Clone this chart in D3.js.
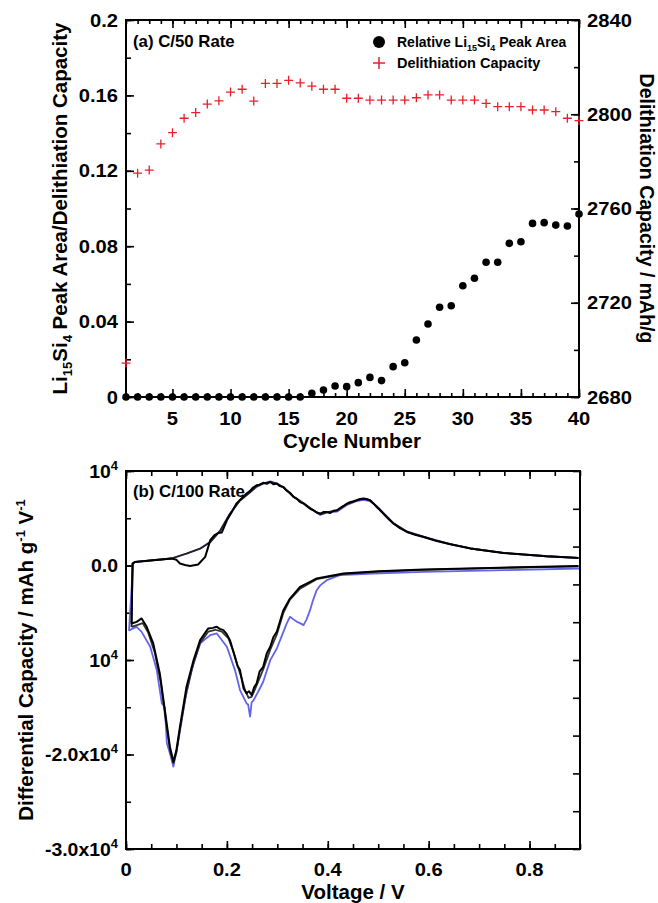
<!DOCTYPE html>
<html><head><meta charset="utf-8">
<script src="https://cdn.jsdelivr.net/npm/d3@7"></script>
<style>
body{margin:0;background:#fff}
svg text{font-family:"Liberation Sans",Arial,Helvetica,sans-serif;font-weight:bold;fill:#000}
</style></head><body>
<svg id="chart" width="658" height="903"></svg>
<script>
// ---------- Panel (a) data ----------
const cycles = [1,2,3,4,5,6,7,8,9,10,11,12,13,14,15,16,17,18,19,20,21,22,23,24,25,26,27,28,29,30,31,32,33,34,35,36,37,38,39,40];
const peakArea = [0,0,0,0,0,0,0,0,0,0,0,0,0,0,0,0,
  0.002,0.0037,0.0058,0.0055,0.0076,0.0104,0.0087,0.0161,0.0182,0.0302,0.0387,0.0476,0.0484,0.059,
  0.063,0.0715,0.0715,0.0815,0.0824,0.0921,0.0925,0.0912,0.0907,0.0971];
const delithCapacity = [2694.4,2775,2776.3,2787.4,2792.2,2798.3,2800.7,2804.3,2805.7,2809.4,
  2810.6,2805.6,2813.1,2813.1,2814.4,2813.3,2811.9,2810.6,2810.6,2806.8,
  2806.8,2806,2806,2806,2806,2807,2808.2,2808.2,2806,2806,
  2806,2804.6,2803.2,2803.2,2803.2,2801.8,2801.8,2801.1,2798.3,2797.3];
const cycleMajorTicks = [5,10,15,20,25,30,35,40];
const leftTicksA = [0,0.04,0.08,0.12,0.16,0.2];
const leftTickLabelsA = ["0","0.04","0.08","0.12","0.16","0.2"];
const rightTicksA = [2680,2720,2760,2800,2840];

// ---------- Panel (b) data : [voltage, dQ/dV] ----------
const blueLith = [[0.9,-317],[0.75,-500],[0.59,-677],[0.49,-846],[0.424,-1025],[0.398,-1554],[0.385,-2100],[0.378,-2611],
  [0.37,-3800],[0.365,-4700],[0.358,-5700],[0.352,-6311],[0.345,-6100],[0.339,-5962],[0.332,-5700],[0.325,-5433],
  [0.318,-6200],[0.312,-7019],[0.299,-8780],[0.286,-10011],[0.272,-12304],[0.262,-13362],[0.253,-14239],[0.249,-14500],
  [0.246,-16000],[0.242,-14700],[0.239,-14591],[0.226,-13180],[0.216,-11068],[0.2,-8605],[0.18,-7195],[0.167,-7370],
  [0.147,-8245],[0.13,-11068],[0.117,-14239],[0.104,-18467],[0.094,-21290],[0.087,-19877],[0.081,-18819],[0.077,-15000],
  [0.071,-14591],[0.061,-11068],[0.048,-8605],[0.031,-7019],[0.021,-6490],[0.012,-6700],[0.006,-6900]];
const blueDelith = [[0.006,-6900],[0.014,200],[0.018,383],[0.09,740],[0.12,1268],[0.147,1797],[0.167,2495],[0.187,3731],
  [0.206,5497],[0.226,6903],[0.246,7780],[0.259,8300],[0.272,8650],[0.286,8900],[0.299,8700],[0.312,8250],[0.332,7300],
  [0.352,6600],[0.372,5800],[0.385,5350],[0.398,5600],[0.418,5700],[0.438,6400],[0.457,6800],[0.471,6950],[0.484,6800],
  [0.497,6300],[0.51,5600],[0.53,4500],[0.557,3600],[0.59,3050],[0.616,2650],[0.643,2250],[0.683,1800],[0.748,1330],
  [0.834,980],[0.897,800]];
const black1Lith = [[0.897,-60],[0.8,-160],[0.7,-280],[0.59,-423],[0.5,-600],[0.431,-846],[0.378,-1374],[0.365,-1734],
  [0.345,-2262],[0.325,-3500],[0.312,-4725],[0.299,-7019],[0.292,-7600],[0.286,-8605],[0.279,-9300],[0.272,-10719],
  [0.265,-11200],[0.259,-12474],[0.254,-12900],[0.249,-13711],[0.244,-13300],[0.239,-13530],[0.233,-13002],[0.226,-11068],
  [0.221,-10600],[0.216,-9662],[0.206,-7900],[0.199,-7200],[0.193,-6840],[0.186,-6700],[0.18,-6490],[0.172,-6600],
  [0.163,-6660],[0.147,-7900],[0.134,-10011],[0.12,-12833],[0.107,-17062],[0.1,-19524],[0.094,-20761],[0.087,-19175],
  [0.077,-15296],[0.067,-11416],[0.054,-8245],[0.041,-6490],[0.031,-5603],[0.021,-5962],[0.011,-6131]];
const black1Delith = [[0.011,-6131],[0.013,200],[0.018,383],[0.0906,740],[0.1,600],[0.107,211],[0.117,50],[0.127,-42],
  [0.143,106],[0.157,909],[0.167,2674],[0.175,3200],[0.183,3446],[0.19,3500],[0.2,4789],[0.21,5700],[0.219,6554],
  [0.229,7100],[0.239,7611],[0.246,7900],[0.252,8250],[0.259,8488],[0.265,8550],[0.272,8750],[0.279,8650],[0.286,8840],
  [0.292,8600],[0.299,8668],[0.305,8400],[0.312,8310],[0.318,7950],[0.325,7700],[0.332,7252],[0.339,7050],[0.345,6700],
  [0.352,6554],[0.358,6300],[0.365,6000],[0.372,5846],[0.378,5600],[0.385,5497],[0.391,5650],[0.398,5666],[0.405,5550],
  [0.411,5800],[0.418,5846],[0.425,6100],[0.431,6300],[0.438,6554],[0.444,6700],[0.451,6800],[0.457,6903],[0.464,7050],
  [0.471,7083],[0.477,7050],[0.484,6903],[0.49,6600],[0.497,6195],[0.503,5900],[0.51,5497],[0.52,4950],[0.53,4440],
  [0.543,3950],[0.557,3552],[0.573,3250],[0.59,3023],[0.616,2600],[0.643,2252],[0.683,1797],[0.748,1332],[0.834,983],
  [0.897,803]];
const black2Lith = [[0.897,-90],[0.7,-300],[0.59,-460],[0.5,-640],[0.431,-900],[0.378,-1450],[0.365,-1850],[0.345,-2450],
  [0.325,-3600],[0.312,-5000],[0.299,-7300],[0.286,-8900],[0.272,-11000],[0.262,-12300],[0.255,-13200],[0.249,-13900],
  [0.243,-14000],[0.236,-13200],[0.229,-11900],[0.22,-10400],[0.212,-9000],[0.203,-7700],[0.19,-7000],[0.177,-6800],
  [0.163,-7000],[0.147,-8200],[0.134,-10300],[0.12,-13300],[0.107,-17300],[0.1,-19800],[0.094,-20900],[0.088,-19800],
  [0.079,-16500],[0.069,-12400],[0.057,-9200],[0.044,-7100],[0.033,-6100],[0.022,-6300],[0.011,-6500]];
const black2Delith = [[0.011,-6500],[0.013,200],[0.018,383],[0.09,740],[0.12,1250],[0.147,1780],[0.167,2480],[0.187,3700],
  [0.206,5450],[0.226,6880],[0.246,7750],[0.259,8400],[0.272,8700],[0.286,8850],[0.299,8650],[0.312,8280],[0.332,7280],
  [0.352,6580],[0.372,5820],[0.385,5420],[0.398,5640],[0.418,5800],[0.438,6500],[0.457,6880],[0.471,7050],[0.484,6880],
  [0.497,6220],[0.51,5520],[0.53,4460],[0.557,3570],[0.59,3030],[0.616,2620],[0.643,2250],[0.683,1800],[0.748,1330],
  [0.834,980],[0.897,800]];
const voltMajorTicks = [0,0.2,0.4,0.6,0.8];
const voltTickLabels = ["0","0.2","0.4","0.6","0.8"];
const qTicks = [-30000,-20000,-10000,0,10000];
const qTickBase = ["-3.0x10","-2.0x10","10","0.0","10"];
const qTickSup = ["4","4","4","","4"];

// ---------- helpers ----------
const svg = d3.select("#chart");
const RED = "#e8202a", BLUE = "#6464ea";

function label(g, x, y, str, size, anchor, sx){
  return g.append("text").attr("transform", `translate(${x},${y}) scale(${sx||1},1)`)
    .attr("text-anchor", anchor||"start").style("font-size", size+"px").text(str);
}
function ticks(g, axisFn, scale, values, len, tx, ty){
  g.append("g").attr("transform", `translate(${tx},${ty})`)
   .call(axisFn(scale).tickValues(values).tickSizeInner(-len).tickSizeOuter(0).tickFormat(""))
   .call(s => s.select(".domain").remove())
   .call(s => s.selectAll("line").attr("stroke","#000").attr("stroke-width",1.6));
}

// ================= Panel (a) =================
const A = {l:126, r:579, t:20, b:397};
const xA = d3.scaleLinear().domain([1,40]).range([A.l,A.r]);
const yL = d3.scaleLinear().domain([0,0.2]).range([A.b,A.t]);
const yR = d3.scaleLinear().domain([2680,2840]).range([A.b,A.t]);
const gA = svg.append("g");

ticks(gA, d3.axisBottom, xA, cycles, 4, 0, A.b);
ticks(gA, d3.axisBottom, xA, cycleMajorTicks, 8, 0, A.b);
ticks(gA, d3.axisTop, xA, cycles, 4, 0, A.t);
ticks(gA, d3.axisTop, xA, cycleMajorTicks, 8, 0, A.t);
ticks(gA, d3.axisLeft, yL, d3.range(0,0.2001,0.02), 5, A.l, 0);
ticks(gA, d3.axisLeft, yL, leftTicksA, 8, A.l, 0);
ticks(gA, d3.axisRight, yR, d3.range(2680,2841,20), 5, A.r, 0);
ticks(gA, d3.axisRight, yR, rightTicksA, 8, A.r, 0);
gA.append("rect").attr("x",A.l).attr("y",A.t).attr("width",A.r-A.l).attr("height",A.b-A.t)
  .attr("fill","none").attr("stroke","#000").attr("stroke-width",2);

leftTicksA.forEach((v,i)=> label(gA, 118, yL(v)+6.5, leftTickLabelsA[i], 18, "end", 1.12));
rightTicksA.forEach(v=> label(gA, 587, yR(v)+6.5, String(v), 18, "start", 1.12));
cycleMajorTicks.forEach(v=> label(gA, xA(v), 425, String(v), 18, "middle", 1.12));

// data
gA.append("g").selectAll("path").data(cycles).join("path")
  .attr("transform",(d,i)=>`translate(${xA(d)},${yR(delithCapacity[i])})`)
  .attr("d","M-4.5,0H4.5M0,-4.5V4.5").attr("stroke",RED).attr("stroke-width",1.3).attr("fill","none");
gA.append("g").selectAll("circle").data(cycles).join("circle")
  .attr("cx",d=>xA(d)).attr("cy",(d,i)=>yL(peakArea[i])).attr("r",3.8).attr("fill","#000");

label(gA, 133, 47, "(a) C/50 Rate", 16, "start", 1.05);
// legend
gA.append("circle").attr("cx",379).attr("cy",42).attr("r",6).attr("fill","#000");
gA.append("path").attr("transform","translate(379,63)").attr("d","M-6,0H6M0,-6V6").attr("stroke",RED).attr("stroke-width",1.5);
{
  const t = gA.append("text").attr("x",397).attr("y",47).style("font-size","14px");
  t.append("tspan").text("Relative Li");
  t.append("tspan").attr("dy",4).style("font-size","9px").text("15");
  t.append("tspan").attr("dy",-4).text("Si");
  t.append("tspan").attr("dy",4).style("font-size","9px").text("4");
  t.append("tspan").attr("dy",-4).text(" Peak Area");
}
label(gA, 397, 68, "Delithiation Capacity", 14.5, "start", 1);

label(gA, 352, 448, "Cycle Number", 20.5, "middle", 1);
{
  const t = gA.append("text").attr("transform","translate(67,208.5) rotate(-90)")
    .attr("text-anchor","middle").style("font-size","20.5px");
  t.append("tspan").text("Li");
  t.append("tspan").attr("dy",5).style("font-size","13px").text("15");
  t.append("tspan").attr("dy",-5).text("Si");
  t.append("tspan").attr("dy",5).style("font-size","13px").text("4");
  t.append("tspan").attr("dy",-5).text(" Peak Area/Delithiation Capacity");
}
gA.append("text").attr("transform","translate(640,208.5) rotate(90)").attr("text-anchor","middle")
  .style("font-size","19.5px").text("Delithiation Capacity / mAh/g");

// ================= Panel (b) =================
const B = {l:126, r:580, t:471, b:849};
const xB = d3.scaleLinear().domain([0,0.9]).range([B.l,B.r]);
const yB = d3.scaleLinear().domain([-30000,10000]).range([B.b,B.t]);
const gB = svg.append("g");

const vMinor = d3.range(0,0.9001,0.05);
ticks(gB, d3.axisBottom, xB, vMinor, 5, 0, B.b);
ticks(gB, d3.axisBottom, xB, voltMajorTicks, 8, 0, B.b);
ticks(gB, d3.axisTop, xB, vMinor, 5, 0, B.t);
ticks(gB, d3.axisTop, xB, voltMajorTicks, 8, 0, B.t);
ticks(gB, d3.axisLeft, yB, d3.range(-30000,10001,5000), 5, B.l, 0);
ticks(gB, d3.axisLeft, yB, qTicks, 8, B.l, 0);
ticks(gB, d3.axisRight, yB, d3.range(-30000,10001,4000), 7, B.r, 0);

label(gB, 133, 497, "(b) C/100 Rate", 16, "start", 1.05);

const line = d3.line().x(d=>xB(d[0])).y(d=>yB(d[1]));
const curves = [
  {d:blueLith, c:BLUE, w:1.8}, {d:blueDelith, c:BLUE, w:1.8},
  {d:black2Lith, c:"#333", w:1.8}, {d:black2Delith, c:"#222", w:1.8},
  {d:black1Lith, c:"#000", w:2}, {d:black1Delith, c:"#000", w:2}
];
gB.append("defs").append("clipPath").attr("id","clipB").append("rect")
  .attr("x",B.l).attr("y",B.t).attr("width",B.r-B.l).attr("height",B.b-B.t);
gB.append("g").attr("clip-path","url(#clipB)").selectAll("path").data(curves).join("path")
  .attr("d",d=>line(d.d)).attr("fill","none").attr("stroke",d=>d.c).attr("stroke-width",d=>d.w)
  .attr("stroke-linejoin","round");

gB.append("rect").attr("x",B.l).attr("y",B.t).attr("width",B.r-B.l).attr("height",B.b-B.t)
  .attr("fill","none").attr("stroke","#000").attr("stroke-width",2);

qTicks.forEach((v,i)=>{
  const t = gB.append("text").attr("transform",`translate(118,${yB(v)+6.5}) scale(1.08,1)`)
    .attr("text-anchor","end").style("font-size","18px");
  t.append("tspan").text(qTickBase[i]);
  if(qTickSup[i]) t.append("tspan").attr("dy",-8).style("font-size","12px").text(qTickSup[i]);
});
voltMajorTicks.forEach((v,i)=> label(gB, xB(v), 876, voltTickLabels[i], 18, "middle", 1.12));

label(gB, 353, 899, "Voltage / V", 20.5, "middle", 1);
{
  const t = gB.append("text").attr("transform","translate(33,660) rotate(-90)")
    .attr("text-anchor","middle").style("font-size","20.5px");
  t.append("tspan").text("Differential Capacity / mAh g");
  t.append("tspan").attr("dy",-8).style("font-size","13px").text("-1");
  t.append("tspan").attr("dy",8).text(" V");
  t.append("tspan").attr("dy",-8).style("font-size","13px").text("-1");
}
</script>
</body></html>
